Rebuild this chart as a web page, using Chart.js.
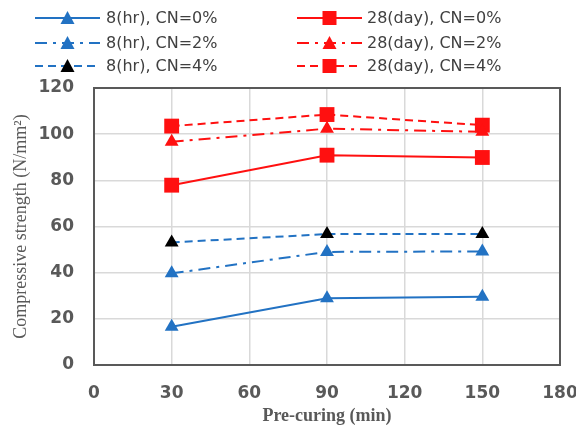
<!DOCTYPE html>
<html>
<head>
<meta charset="utf-8">
<script src="https://cdn.jsdelivr.net/npm/chart.js@4"></script>
<style>
  html, body { margin: 0; padding: 0; background: #fff; }
  #wrap { width: 576px; height: 425px; }
</style>
</head>
<body>
<div id="wrap"><canvas id="chart" width="576" height="425"></canvas></div>
<script>
// Pre-curing time (min)
const preCuring = [30, 90, 150];

// Compressive strength (N/mm2)
const hr8_cn0 = [16.6, 28.9, 29.6];
const hr8_cn2 = [39.7, 49.0, 49.2];
const hr8_cn4 = [53.1, 56.7, 56.7];
const day28_cn0 = [77.9, 90.9, 89.9];
const day28_cn2 = [96.7, 102.4, 101.0];
const day28_cn4 = [103.5, 108.5, 103.9];

const xTicks = [0, 30, 60, 90, 120, 150, 180];
const yTicks = [0, 20, 40, 60, 80, 100, 120];

const BLUE = '#2272c3';
const RED = '#ff1010';
const GREY = '#595959';

const toPts = arr => preCuring.map((x, i) => ({ x, y: arr[i] }));

const series = [
  { label: '8(hr), CN=0%', data: hr8_cn0, color: BLUE, marker: BLUE, style: 'triangle', dash: [] },
  { label: '8(hr), CN=2%', data: hr8_cn2, color: BLUE, marker: BLUE, style: 'triangle', dash: [12, 6, 3, 6] },
  { label: '8(hr), CN=4%', data: hr8_cn4, color: BLUE, marker: '#000', style: 'triangle', dash: [8, 5] },
  { label: '28(day), CN=0%', data: day28_cn0, color: RED, marker: RED, style: 'rect', dash: [] },
  { label: '28(day), CN=2%', data: day28_cn2, color: RED, marker: RED, style: 'triangle', dash: [12, 6, 3, 6] },
  { label: '28(day), CN=4%', data: day28_cn4, color: RED, marker: RED, style: 'rect', dash: [8, 5] },
];

function drawMarker(ctx, style, x, y, color) {
  ctx.save();
  ctx.fillStyle = color;
  ctx.beginPath();
  if (style === 'rect') {
    ctx.rect(x - 7, y - 7, 14, 14);
  } else {
    ctx.moveTo(x, y - 7);
    ctx.lineTo(x + 7, y + 6);
    ctx.lineTo(x - 7, y + 6);
    ctx.closePath();
  }
  ctx.fill();
  ctx.restore();
}

// legend drawn as line + marker, two columns of three
const legendPlugin = {
  id: 'lineLegend',
  afterDraw(chart) {
    const ctx = chart.ctx;
    const cols = [{ x0: 35, x1: 100, tx: 106 }, { x0: 297, x1: 362, tx: 367 }];
    const rows = [18, 43, 66];
    series.forEach((s, i) => {
      const c = cols[Math.floor(i / 3)];
      const y = rows[i % 3];
      ctx.save();
      ctx.strokeStyle = s.color;
      ctx.lineWidth = 2;
      ctx.setLineDash(s.dash);
      ctx.beginPath();
      ctx.moveTo(c.x0, y);
      ctx.lineTo(c.x1, y);
      ctx.stroke();
      ctx.restore();
      drawMarker(ctx, s.style, (c.x0 + c.x1) / 2, y, s.marker);
      ctx.save();
      ctx.fillStyle = '#404040';
      ctx.font = '16px "DejaVu Sans", sans-serif';
      ctx.textBaseline = 'middle';
      ctx.fillText(s.label, c.tx, y + 1);
      ctx.restore();
    });
  }
};

// dark frame around the plot area
const framePlugin = {
  id: 'frame',
  beforeDatasetsDraw(chart) {
    const { ctx, chartArea: a } = chart;
    ctx.save();
    ctx.strokeStyle = GREY;
    ctx.lineWidth = 2;
    ctx.strokeRect(a.left, a.top, a.right - a.left, a.bottom - a.top);
    ctx.restore();
  }
};

new Chart(document.getElementById('chart'), {
  type: 'line',
  data: {
    datasets: series.map(s => ({
      label: s.label,
      data: toPts(s.data),
      borderColor: s.color,
      borderWidth: 2,
      borderDash: s.dash,
      pointStyle: s.style,
      pointRadius: s.style === 'rect' ? 10.5 : 8,
      pointBackgroundColor: s.marker,
      pointBorderColor: s.marker,
      pointBorderWidth: 0,
      tension: 0,
      fill: false,
    })),
  },
  options: {
    responsive: false,
    animation: false,
    layout: { padding: { top: 88, right: 16, left: 0, bottom: 0 } },
    plugins: {
      legend: { display: false },
      tooltip: { enabled: false },
    },
    scales: {
      x: {
        type: 'linear',
        min: 0,
        max: 180,
        afterBuildTicks: sc => { sc.ticks = xTicks.map(v => ({ value: v })); },
        afterFit: sc => { sc.height = 60; sc.paddingLeft = 0; sc.paddingRight = 0; },
        ticks: { color: GREY, font: { family: 'DejaVu Sans', size: 17, weight: 'bold' }, padding: 18, maxRotation: 0 },
        grid: { color: '#d9d9d9', lineWidth: 1.5, drawTicks: false },
        border: { display: false },
        title: { display: true, text: 'Pre-curing (min)', color: GREY, font: { family: 'Liberation Serif', size: 18, weight: 'bold', lineHeight: 1 }, padding: { top: 0, bottom: 0 } },
      },
      y: {
        min: 0,
        max: 120,
        afterBuildTicks: sc => { sc.ticks = yTicks.map(v => ({ value: v })); },
        afterFit: sc => { sc.width = 94; },
        ticks: { color: GREY, font: { family: 'DejaVu Sans', size: 17, weight: 'bold' }, padding: 20 },
        grid: { color: '#d9d9d9', lineWidth: 1.5, drawTicks: false },
        border: { display: false },
        title: { display: true, text: 'Compressive strength (N/mm²)', color: GREY, font: { family: 'Liberation Serif', size: 18, lineHeight: 1 }, padding: { top: 12, bottom: 0 } },
      },
    },
  },
  plugins: [framePlugin, legendPlugin],
});
</script>
</body>
</html>
